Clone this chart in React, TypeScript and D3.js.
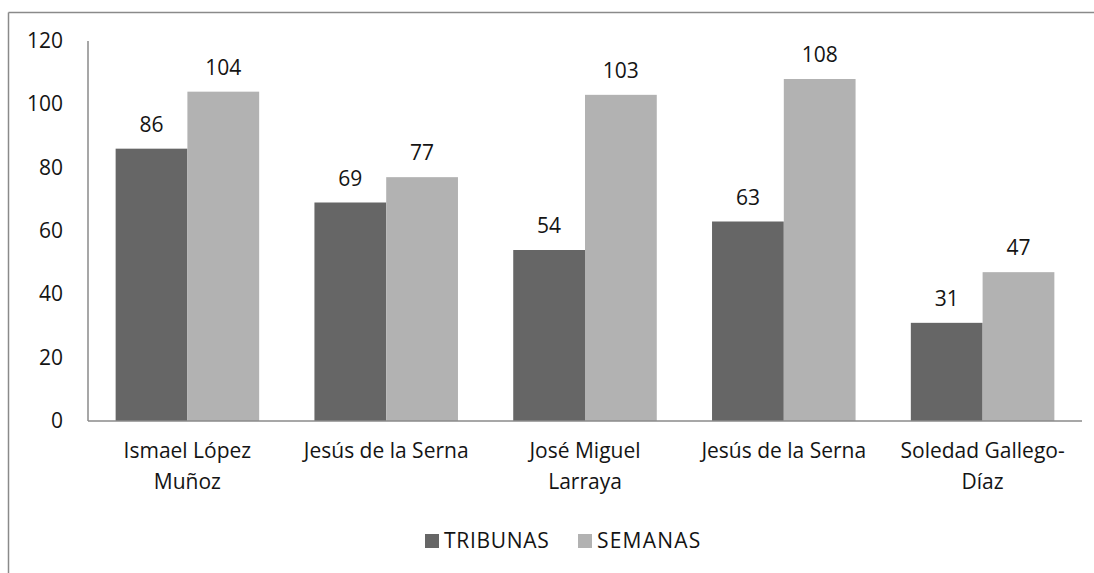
import React from "react";
import * as d3 from "d3";

const categories: string[][] = [
  ["Ismael López", "Muñoz"],
  ["Jesús de la Serna"],
  ["José Miguel", "Larraya"],
  ["Jesús de la Serna"],
  ["Soledad Gallego-", "Díaz"],
];
const tribunas = [86, 69, 54, 63, 31];
const semanas = [104, 77, 103, 108, 47];
const yTicks = [0, 20, 40, 60, 80, 100, 120];
const seriesNames = ["TRIBUNAS", "SEMANAS"];
const colors = ["#666666", "#b2b2b2"];

export default function App() {
  const W = 1094, H = 573;
  const left = 88, right = 1082, top = 41, bottom = 421;
  const x = d3.scaleBand<number>().domain(d3.range(categories.length)).range([left, right]).paddingInner(0.278).paddingOuter(0.139);
  const y = d3.scaleLinear().domain([0, 120]).range([bottom, top]);
  const bw = x.bandwidth() / 2;
  const font = "'Open Sans', sans-serif";
  const fs = 21;
  const tc = "#141414";
  return (
    <svg width={W} height={H} style={{ position: "absolute", left: 0, top: 0 }} fontFamily={font}>
      <rect x={0} y={0} width={W} height={H} fill="#fff" />
      <line x1={8.5} y1={12.5} x2={W} y2={12.5} stroke="#8a8a8a" strokeWidth={1.5} />
      <line x1={8.5} y1={12.5} x2={8.5} y2={H} stroke="#8a8a8a" strokeWidth={1.5} />
      {categories.map((c, i) => {
        const x0 = x(i)!;
        return (
          <g key={i}>
            <rect x={x0} y={y(tribunas[i])} width={bw} height={bottom - y(tribunas[i])} fill={colors[0]} />
            <rect x={x0 + bw} y={y(semanas[i])} width={bw} height={bottom - y(semanas[i])} fill={colors[1]} />
            <text x={x0 + bw / 2} y={y(tribunas[i]) - 17} textAnchor="middle" fontSize={fs} fill={tc}>{tribunas[i]}</text>
            <text x={x0 + bw * 1.5} y={y(semanas[i]) - 17} textAnchor="middle" fontSize={fs} fill={tc}>{semanas[i]}</text>
            {c.map((line, j) => (
              <text key={j} x={x0 + bw} y={458 + j * 31} textAnchor="middle" fontSize={fs} fill={tc}>{line}</text>
            ))}
          </g>
        );
      })}
      <line x1={left} y1={bottom} x2={right} y2={bottom} stroke="#8a8a8a" strokeWidth={1.5} />
      <line x1={left} y1={top} x2={left} y2={bottom} stroke="#8a8a8a" strokeWidth={1.5} />
      {yTicks.map((t) => (
        <text key={t} x={63} y={y(t) + 7} textAnchor="end" fontSize={fs} fill={tc}>{t}</text>
      ))}
      <g>
        <rect x={425} y={534} width={14} height={14} fill={colors[0]} />
        <text x={444} y={548} fontSize={21} letterSpacing={0.7} fill={tc}>{seriesNames[0]}</text>
        <rect x={578} y={534} width={14} height={14} fill={colors[1]} />
        <text x={597} y={548} fontSize={21} letterSpacing={1.2} fill={tc}>{seriesNames[1]}</text>
      </g>
    </svg>
  );
}
